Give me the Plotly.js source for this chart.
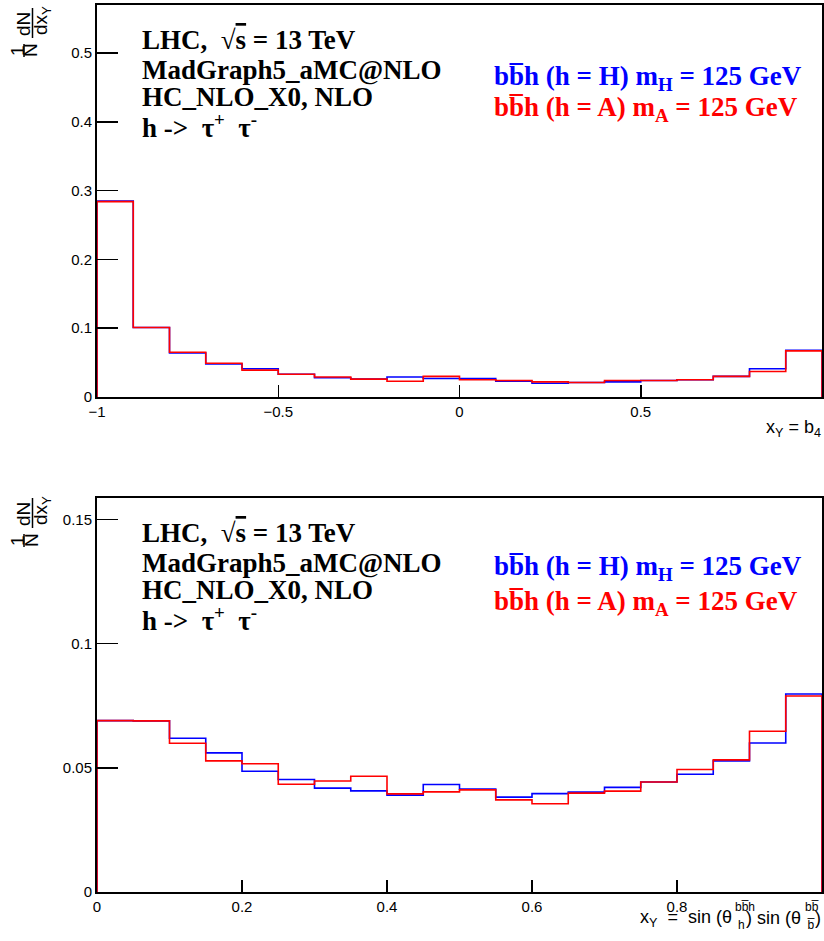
<!DOCTYPE html>
<html>
<head>
<meta charset="utf-8">
<script src="https://cdn.plot.ly/plotly-3.0.1.min.js"></script>
<style>html,body{margin:0;padding:0;background:#fff;}#plot{width:824px;height:941px;}</style>
</head>
<body>
<div id="plot"></div>
<script>
// ---- data ----
const topXMin = -1, topBinWidth = 0.1;
const topBlue = [0.285,0.101,0.064,0.048,0.041,0.033,0.028,0.026,0.029,0.027,
                 0.027,0.023,0.020,0.021,0.022,0.024,0.025,0.030,0.041,0.068];
const topRed  = [0.284,0.101,0.065,0.049,0.039,0.033,0.029,0.026,0.023,0.030,
                 0.025,0.024,0.022,0.021,0.024,0.024,0.025,0.030,0.037,0.067];
const botXMin = 0, botBinWidth = 0.05;
const botBlue = [0.069,0.0689,0.0619,0.056,0.0486,0.0453,0.0418,0.0407,0.039,0.0433,
                 0.0414,0.0382,0.0396,0.0402,0.0421,0.0443,0.0474,0.0528,0.060,0.0797];
const botRed  = [0.069,0.0689,0.0599,0.0528,0.0516,0.0434,0.0447,0.0466,0.0395,0.0403,
                 0.0411,0.0371,0.0355,0.0398,0.0406,0.0443,0.0493,0.0532,0.0647,0.0789];
const topXTicks = [-1,-0.5,0,0.5,1];
const topYTicks = [0,0.1,0.2,0.3,0.4,0.5];
const botXTicks = [0,0.2,0.4,0.6,0.8,1];
const botYTicks = [0,0.05,0.1,0.15];
const infoLines = ["LHC,  √<span style='text-decoration:overline'>s</span> = 13 TeV",
                   "MadGraph5_aMC@NLO", "HC_NLO_X0, NLO", "h ->  τ<sup>+</sup>  τ<sup>-</sup>"];
const legendBlue = "bb\u0305h (h = H) m<sub>H</sub> = 125 GeV";
const legendRed  = "bb\u0305h (h = A) m<sub>A</sub> = 125 GeV";

// ---- helpers ----
function histTrace(vals, xmin, w, color, xa, ya) {
  const xs = [xmin], ys = [0];
  vals.forEach((v, i) => { xs.push(xmin + i * w); ys.push(v); });
  const xEnd = xmin + vals.length * w;
  xs.push(xEnd); ys.push(vals[vals.length - 1]);
  xs.push(xEnd); ys.push(0);
  return {x: xs, y: ys, type: 'scatter', mode: 'lines', line: {shape: 'hv', color: color, width: 1.6},
          xaxis: xa, yaxis: ya, hoverinfo: 'skip', showlegend: false};
}
const W = 824, H = 941;
const px = x => x / W, py = y => 1 - y / H;

const traces = [
  histTrace(topBlue, topXMin, topBinWidth, '#0000ff', 'x', 'y'),
  histTrace(topRed, topXMin, topBinWidth, '#ff0000', 'x', 'y'),
  histTrace(botBlue, botXMin, botBinWidth, '#0000ff', 'x2', 'y2'),
  histTrace(botRed, botXMin, botBinWidth, '#ff0000', 'x2', 'y2')
];

const tickFont = {family: 'Liberation Sans, Arial, sans-serif', size: 15, color: '#000'};
function axis(extra) {
  return Object.assign({showgrid: false, zeroline: false, showline: true, mirror: true,
    linecolor: '#000', linewidth: 2, ticks: 'inside', tickwidth: 1.5, tickcolor: '#000',
    tickfont: tickFont, fixedrange: true}, extra);
}

const serif = 'Liberation Serif, Times New Roman, serif';
const sans = 'Liberation Sans, Arial, sans-serif';
const ann = [];
function addInfo(offset) {
  const ys = [40, 70, 97, 126];
  infoLines.forEach((t, i) => ann.push({text: '<b>' + t + '</b>', x: px(140), y: py(ys[i] + offset),
    xref: 'paper', yref: 'paper', xanchor: 'left', yanchor: 'middle', showarrow: false,
    font: {family: serif, size: 27, color: '#000'}}));
}
function addLegend(yb, yr) {
  ann.push({text: '<b>' + legendBlue + '</b>', x: px(492), y: py(yb), xref: 'paper', yref: 'paper',
    xanchor: 'left', yanchor: 'middle', showarrow: false, font: {family: serif, size: 27, color: '#0000ff'}});
  ann.push({text: '<b>' + legendRed + '</b>', x: px(492), y: py(yr), xref: 'paper', yref: 'paper',
    xanchor: 'left', yanchor: 'middle', showarrow: false, font: {family: serif, size: 27, color: '#ff0000'}});
}
function addYTitle(offset) {
  const f = {family: sans, size: 19, color: '#000'};
  const items = [["1", 17, 51], ["N", 31, 50], ["dN", 23, 24], ["dx<sub>Y</sub>", 42, 21]];
  items.forEach(it => ann.push({text: it[0], x: px(it[1]), y: py(it[2] + offset), xref: 'paper', yref: 'paper',
    xanchor: 'center', yanchor: 'middle', textangle: -90, showarrow: false, font: f}));
}
addInfo(0); addInfo(493);
addLegend(78, 109); addLegend(568, 603);
addYTitle(0); addYTitle(490);

// x titles
const xf = {family: sans, size: 18, color: '#000'};
const xfs = {family: sans, size: 12, color: '#000'};
ann.push({text: 'x<sub>Y</sub> = b<sub>4</sub>', x: px(823), y: py(428), xref: 'paper', yref: 'paper',
  xanchor: 'right', yanchor: 'middle', showarrow: false, font: xf});
function xt(t, x, y, f, anchor) {
  ann.push({text: t, x: px(x), y: py(y), xref: 'paper', yref: 'paper', xanchor: anchor || 'left', yanchor: 'middle',
    showarrow: false, font: f});
}
xt('x<sub>Y</sub>\u00a0 = \u00a0sin (θ', 734, 918, xf, 'right');
xt('bb\u0305h', 733, 907, xfs);
xt('h', 736, 925, xfs);
xt(') sin (θ', 803, 918, xf, 'right');
xt('bb\u0305', 803, 907, xfs);
xt('b\u0305', 805, 925, xfs);
xt(')', 823, 918, xf, 'right');

const shapes = [
  {type: 'line', xref: 'paper', yref: 'paper', x0: px(32.5), x1: px(32.5), y0: py(8), y1: py(38), line: {color: '#000', width: 1.5}},
  {type: 'line', xref: 'paper', yref: 'paper', x0: px(24), x1: px(24), y0: py(44), y1: py(57), line: {color: '#000', width: 1.5}},
  {type: 'line', xref: 'paper', yref: 'paper', x0: px(32.5), x1: px(32.5), y0: py(498), y1: py(528), line: {color: '#000', width: 1.5}},
  {type: 'line', xref: 'paper', yref: 'paper', x0: px(24), x1: px(24), y0: py(534), y1: py(547), line: {color: '#000', width: 1.5}}
];

const layout = {
  width: W, height: H, margin: {l: 0, r: 0, t: 0, b: 0}, paper_bgcolor: '#fff', plot_bgcolor: '#fff',
  showlegend: false,
  xaxis: axis({domain: [px(97), px(822)], range: [-1, 1], tickvals: topXTicks, ticklen: 12, anchor: 'y'}),
  yaxis: axis({domain: [py(397), py(5)], range: [0, 0.5698], tickvals: topYTicks, ticklen: 21, anchor: 'x'}),
  xaxis2: axis({domain: [px(97), px(822)], range: [0, 1], tickvals: botXTicks, ticklen: 12, anchor: 'y2'}),
  yaxis2: axis({domain: [py(892), py(498)], range: [0, 0.1586], tickvals: botYTicks, ticklen: 21, anchor: 'x2'}),
  annotations: ann, shapes: shapes
};
Plotly.newPlot('plot', traces, layout, {displayModeBar: false, staticPlot: true});
</script>
</body>
</html>
